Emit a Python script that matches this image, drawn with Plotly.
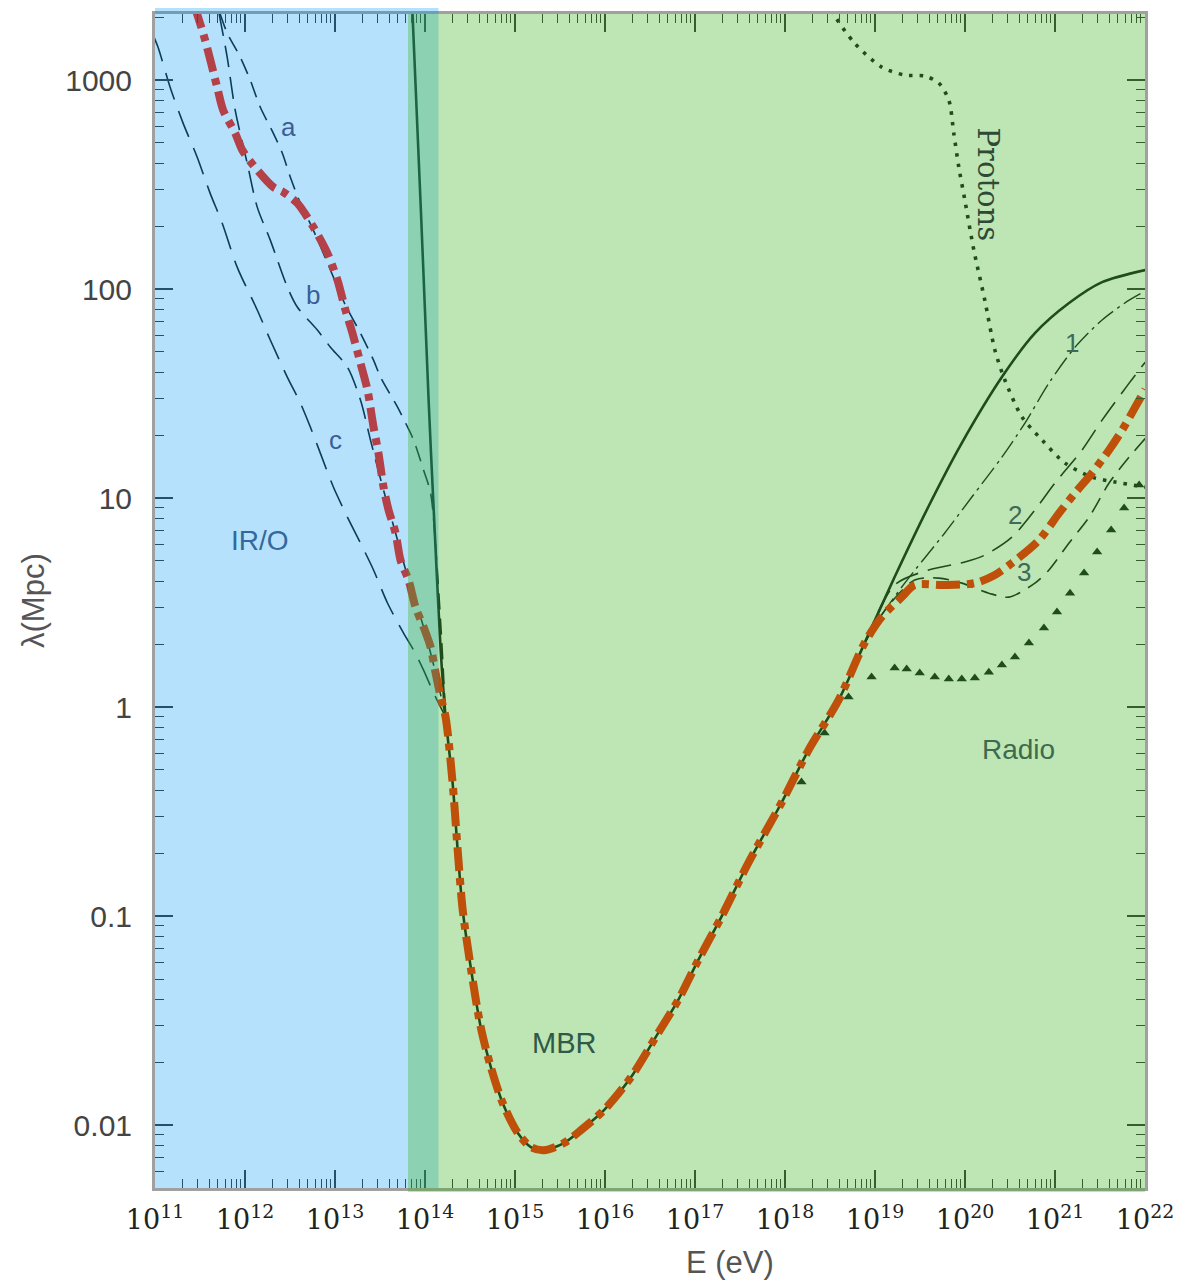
import plotly.graph_objects as go

# Photon attenuation length vs energy.  Values are log10(E / eV) and log10(lambda / Mpc).

# Microwave background (MBR) pair production
mbr_logE = [13.851, 13.862, 14.040, 14.118, 14.174, 14.229, 14.307, 14.363, 14.419, 14.508,
            14.619, 14.731, 14.864, 15.031, 15.176, 15.321, 15.543, 15.733, 15.989, 16.290,
            16.590, 16.813, 17.036, 17.292, 17.592, 17.960, 18.261, 18.595, 18.884, 19.218,
            19.597, 19.964, 20.410, 20.777, 21.156, 21.523, 22.002]
mbr_loglam = [3.359, 3.311, 1.469, 0.751, 0.273, -0.048, -0.364, -0.684, -0.971, -1.244,
              -1.531, -1.722, -1.895, -2.038, -2.105, -2.120, -2.086, -2.024, -1.928, -1.770,
              -1.560, -1.402, -1.211, -1.005, -0.746, -0.459, -0.206, 0.033, 0.306, 0.622,
              0.962, 1.263, 1.579, 1.789, 1.933, 2.033, 2.091]

# Combined (total) attenuation length
total_logE = [11.434, 11.468, 11.557, 11.690, 11.757, 11.891, 11.969, 12.091, 12.314, 12.425,
              12.581, 12.759, 12.915, 13.027, 13.116, 13.194, 13.283, 13.361, 13.428, 13.483,
              13.539, 13.595, 13.673, 13.728, 13.817, 13.895, 13.984, 14.062, 14.118, 14.174,
              14.229, 14.307, 14.363, 14.419, 14.508, 14.619, 14.731, 14.864, 15.031, 15.176,
              15.321, 15.543, 15.733, 15.989, 16.290, 16.590, 16.813, 17.036, 17.292, 17.592,
              17.960, 18.261, 18.595, 18.884, 19.074, 19.296, 19.441, 19.742, 20.109, 20.332,
              20.521, 20.822, 21.045, 21.223, 21.412, 21.601, 21.746, 21.891, 22.002]
total_loglam = [3.359, 3.316, 3.191, 2.967, 2.856, 2.746, 2.665, 2.593, 2.488, 2.464,
                2.411, 2.297, 2.172, 2.043, 1.900, 1.789, 1.646, 1.517, 1.340, 1.215,
                1.053, 0.943, 0.833, 0.703, 0.608, 0.478, 0.383, 0.287, 0.163, 0.048,
                -0.048, -0.364, -0.684, -0.971, -1.244, -1.531, -1.722, -1.895, -2.038, -2.105,
                -2.120, -2.086, -2.024, -1.928, -1.770, -1.560, -1.402, -1.211, -1.005, -0.746,
                -0.459, -0.206, 0.033, 0.306, 0.431, 0.526, 0.584, 0.584, 0.593, 0.632,
                0.689, 0.799, 0.928, 1.024, 1.120, 1.230, 1.325, 1.435, 1.520]

# IR/optical background models a, b, c
a_logE = [11.724, 11.802, 11.947, 12.058, 12.169, 12.314, 12.414, 12.503, 12.615, 12.759,
          12.949, 13.116, 13.283, 13.428, 13.506, 13.695, 13.806, 13.873, 13.984, 14.062,
          14.129, 14.185, 14.229]
a_loglam = [3.316, 3.225, 3.110, 3.000, 2.871, 2.746, 2.651, 2.536, 2.411, 2.282,
            2.091, 1.923, 1.789, 1.660, 1.579, 1.435, 1.340, 1.278, 1.134, 1.024,
            0.703, 0.321, -0.048]

b_logE = [11.713, 11.802, 11.891, 12.024, 12.136, 12.281, 12.470, 12.581, 12.804, 12.949,
          13.138, 13.283, 13.394, 13.539, 13.673, 13.817, 13.984, 14.118, 14.229]
b_loglam = [3.316, 3.110, 2.856, 2.603, 2.392, 2.234, 2.010, 1.914, 1.804, 1.722,
            1.627, 1.469, 1.278, 1.038, 0.833, 0.608, 0.383, 0.163, -0.048]

c_logE = [10.978, 11.033, 11.167, 11.312, 11.468, 11.612, 11.746, 11.913, 12.136, 12.281,
          12.470, 12.615, 12.726, 12.837, 12.982, 13.138, 13.283, 13.428, 13.583, 13.762,
          13.873, 13.984, 14.096, 14.229]
c_loglam = [3.215, 3.158, 2.967, 2.794, 2.632, 2.459, 2.316, 2.105, 1.900, 1.756,
            1.579, 1.455, 1.340, 1.215, 1.053, 0.909, 0.785, 0.656, 0.498, 0.354,
            0.273, 0.177, 0.067, -0.048]

# Radio background models 1, 2, 3
r1_logE = [18.884, 19.074, 19.330, 19.775, 20.076, 20.410, 20.666, 20.933, 21.223, 21.523,
           21.824, 22.002]
r1_loglam = [0.306, 0.440, 0.593, 0.833, 1.005, 1.196, 1.359, 1.550, 1.722, 1.852,
             1.947, 1.990]

r2_logE = [18.884, 19.218, 19.597, 19.998, 20.220, 20.521, 20.777, 21.000, 21.301, 21.523,
           21.824, 22.002]
r2_loglam = [0.306, 0.584, 0.656, 0.694, 0.727, 0.813, 0.943, 1.072, 1.230, 1.373,
             1.550, 1.650]

r3_logE = [18.884, 19.129, 19.441, 19.708, 19.964, 20.265, 20.488, 20.777, 20.933, 21.156,
           21.379, 21.601, 21.824, 22.002]
r3_loglam = [0.306, 0.474, 0.608, 0.617, 0.593, 0.545, 0.526, 0.593, 0.656, 0.785,
             0.909, 1.072, 1.196, 1.285]

# Proton energy-loss length
p_logE = [18.494, 18.550, 18.773, 19.074, 19.330, 19.552, 19.708, 19.820, 19.875, 19.931,
          19.998, 20.098, 20.220, 20.332, 20.443, 20.633, 20.855, 21.111, 21.412, 21.668,
          22.002]
p_loglam = [3.383, 3.311, 3.177, 3.062, 3.024, 3.019, 2.986, 2.904, 2.746, 2.584,
            2.426, 2.187, 1.947, 1.708, 1.565, 1.388, 1.278, 1.167, 1.100, 1.077,
            1.053]

# Triangle series
tri_logE = [18.183, 18.439, 18.706, 18.962, 19.218, 19.352, 19.497, 19.664, 19.820, 19.964,
            20.109, 20.265, 20.410, 20.555, 20.710, 20.877, 21.022, 21.167, 21.323, 21.468,
            21.624, 21.768, 21.935]
tri_loglam = [-0.359, -0.124, 0.048, 0.144, 0.187, 0.182, 0.163, 0.144, 0.134, 0.134,
              0.139, 0.167, 0.201, 0.239, 0.306, 0.378, 0.455, 0.545, 0.641, 0.742,
              0.847, 0.952, 1.062]

x_decades = list(range(11, 23))
y_ticks = [0.01, 0.1, 1, 10, 100, 1000]
y_ticktext = ["0.01", "0.1", "1", "10", "100", "1000"]


def pw(vals):
    return [10.0 ** v for v in vals]


DARK = "rgb(15,25,25)"
fig = go.Figure()


def add_line(logE, loglam, color, width, dash, shape="spline"):
    fig.add_trace(go.Scatter(
        x=pw(logE), y=pw(loglam), mode="lines",
        line=dict(color=color, width=width, dash=dash, shape=shape, smoothing=0.8),
        hoverinfo="skip"))


add_line(c_logE, c_loglam, DARK, 1.6, "28px,12px")
add_line(b_logE, b_loglam, DARK, 1.6, "22px,10px")
add_line(a_logE, a_loglam, DARK, 1.6, "16px,9px")
add_line(r1_logE, r1_loglam, DARK, 1.4, "20px,5px,3px,5px")
add_line(r2_logE, r2_loglam, DARK, 1.6, "24px,10px")
add_line(r3_logE, r3_loglam, DARK, 1.6, "16px,9px")
add_line(p_logE, p_loglam, DARK, 3.6, "3.5px,7px")
add_line(mbr_logE, mbr_loglam, DARK, 2.6, "solid")
fig.add_trace(go.Scatter(
    x=pw(tri_logE), y=pw(tri_loglam), mode="markers",
    marker=dict(symbol="triangle-up", size=9, color=DARK), hoverinfo="skip"))
add_line(total_logE, total_loglam, "rgb(255,30,0)", 8, "24px,7px,7px,7px")

# Background regions, drawn as translucent layers over the curves
PW, PH = 990.0, 1174.0
fig.add_shape(type="rect", xref="paper", yref="paper",
              x0=0, x1=283.5 / PW, y0=0, y1=1 + 6 / PH,
              fillcolor="rgba(0,152,247,0.29)", line_width=0, layer="above")
fig.add_shape(type="rect", xref="paper", yref="paper",
              x0=253 / PW, x1=1.0, y0=-4 / PH, y1=1,
              fillcolor="rgba(60,180,30,0.333)", line_width=0, layer="above")


# Text labels (positions in log10 axis units)
def label(x, y, text, color, size, family="Liberation Sans", angle=0):
    fig.add_annotation(x=x, y=y, xref="x", yref="y", text=text, showarrow=False,
                       xanchor="center", yanchor="middle", textangle=angle,
                       font=dict(family=family, size=size, color=color))


label(12.481, 2.775, "a", "#3b5f95", 26)
label(12.759, 1.971, "b", "#3b5f95", 26)
label(13.004, 1.278, "c", "#3b5f95", 26)
label(12.169, 0.799, "IR/O", "#33699a", 28)
label(15.543, -1.608, "MBR", "#2f5a48", 29)
label(20.599, -0.201, "Radio", "#3d6b4d", 28)
label(20.260, 2.498, "Protons", "#2e4a36", 29, family="DejaVu Serif", angle=90)
label(21.189, 1.742, "1", "#3e6a5a", 26)
label(20.555, 0.919, "2", "#3e6a5a", 26)
label(20.655, 0.646, "3", "#3e6a5a", 26)

# Axis titles
fig.add_annotation(x=(730 - 155) / PW, y=(1188 - 1262) / PH, xref="paper", yref="paper",
                   text="E (eV)", showarrow=False, xanchor="center", yanchor="middle",
                   font=dict(family="Liberation Sans", size=31, color="#555555"))
fig.add_annotation(x=(33 - 155) / PW, y=(1188 - 601) / PH, xref="paper", yref="paper",
                   text="λ(Mpc)", showarrow=False, textangle=-90,
                   xanchor="center", yanchor="middle",
                   font=dict(family="Liberation Sans", size=31, color="#555555"))

minor_x = [k * 10.0 ** d for d in range(11, 22) for k in range(2, 10)]
minor_y = [k * 10.0 ** d for d in range(-3, 4) for k in range(2, 10)]

TICKC = "#333333"
fig.update_xaxes(
    type="log", range=[11, 22], automargin=False,
    tickmode="array", tickvals=[10.0 ** d for d in x_decades],
    ticktext=[f"10<sup>{d}</sup>" for d in x_decades],
    ticks="inside", ticklen=18, tickwidth=1.6, tickcolor=TICKC,
    minor=dict(ticks="inside", ticklen=9, tickwidth=1.3, tickcolor=TICKC,
               tickmode="array", tickvals=minor_x, showgrid=False),
    showline=True, linecolor="#a0a0a0", linewidth=3, mirror="allticks",
    showgrid=False, zeroline=False, ticklabelstandoff=6,
    tickfont=dict(family="DejaVu Serif", size=27, color="#222222"))
fig.update_yaxes(
    type="log", range=[-2.301, 3.316], automargin=False,
    tickmode="array", tickvals=y_ticks, ticktext=y_ticktext,
    ticks="inside", ticklen=18, tickwidth=1.6, tickcolor=TICKC,
    minor=dict(ticks="inside", ticklen=9, tickwidth=1.3, tickcolor=TICKC,
               tickmode="array", tickvals=minor_y, showgrid=False),
    showline=True, linecolor="#a0a0a0", linewidth=3, mirror="allticks",
    showgrid=False, zeroline=False, ticklabelstandoff=14,
    tickfont=dict(family="Liberation Sans", size=30, color="#444444"))

fig.update_layout(width=1179, height=1280,
                  margin=dict(l=155, r=34, t=14, b=92),
                  plot_bgcolor="white", paper_bgcolor="white", showlegend=False)

fig.write_html("out.html")
